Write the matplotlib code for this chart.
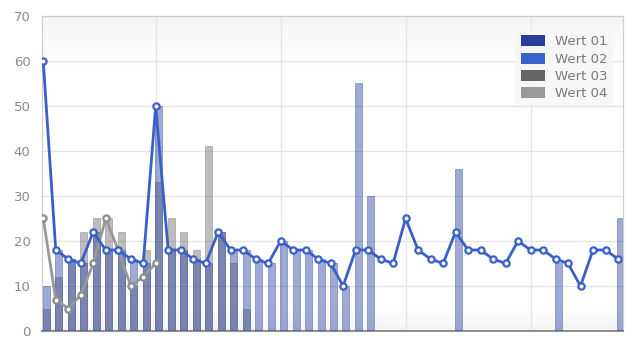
import numpy as np
import matplotlib
matplotlib.use('Agg')
import matplotlib.pyplot as plt
from matplotlib.patches import Patch

# Werte je Punkt (1..47)
x = np.arange(1, 48)

wert01 = [10, 18, 16, 15, 22, 18, 18, 16, 15, 50, 18, 18, 16, 15, 22, 18, 18, 16, 15, 20,
          18, 18, 16, 15, 10, 55, 30, 0, 0, 0, 0, 0, 0, 36, 0, 0, 0, 0, 0, 0,
          0, 15, 0, 0, 0, 0, 25]
wert02 = [60, 18, 16, 15, 22, 18, 18, 16, 15, 50, 18, 18, 16, 15, 22, 18, 18, 16, 15, 20,
          18, 18, 16, 15, 10, 18, 18, 16, 15, 25, 18, 16, 15, 22, 18, 18, 16, 15, 20, 18,
          18, 16, 15, 10, 18, 18, 16]
wert03 = [5, 12, 16, 22, 25, 25, 22, 10, 18, 33, 25, 22, 18, 41, 22, 15, 5]
wert04 = [25, 7, 5, 8, 15, 25, 18, 10, 12, 15]

labels = ['Wert 01', 'Wert 02', 'Wert 03', 'Wert 04']
farben = ['#26409a', '#3a62c8', '#666666', '#999999']

fig = plt.figure(figsize=(6.26, 3.38), dpi=100)
ax = fig.add_axes([0.0663, 0.0207, 0.9289, 0.932])

# leichter Verlauf im Hintergrund
grad = np.ones((100, 1))
grad[:18, 0] = np.linspace(0.955, 1.0, 18)
grad[-9:, 0] = np.linspace(1.0, 0.955, 9)
ax.imshow(grad, extent=[0, 1, 0, 1], transform=ax.transAxes, cmap='gray',
          vmin=0, vmax=1, aspect='auto', zorder=0)

bw = 0.56
ax.bar(x[:len(wert03)] - 0.05, wert03, width=bw, align='edge', color='#666666',
       alpha=0.43, edgecolor='#666666', linewidth=0.6, zorder=2)
ax.bar(x - 0.05, wert01, width=bw, align='edge', color='#2a45a0',
       alpha=0.45, edgecolor='#2a45a0', linewidth=0.6, zorder=3)

ax.plot(x[:len(wert04)], wert04, color='#999999', lw=2.0, marker='o', ms=4.5,
        mfc='white', mec='#8c8c8c', mew=1.6, zorder=4)
ax.plot(x, wert02, color='#3a5fc8', lw=2.0, marker='o', ms=4.5,
        mfc='white', mec='#3a5fc8', mew=1.6, zorder=5)

ax.set_xlim(0.86, 47.4)
ax.set_ylim(0, 70)
ax.set_yticks(range(0, 71, 10))
ax.set_xticks([10, 20, 30, 40])
ax.set_xticklabels([])
ax.tick_params(length=0, pad=8, labelsize=9.5, labelcolor='#8a8a8a')
ax.grid(True, color='#e4e4e4', lw=0.9, zorder=1)
ax.set_axisbelow(True)

for s in ['top', 'right', 'left']:
    ax.spines[s].set_color('#cfcfcf')
    ax.spines[s].set_linewidth(0.9)
ax.spines['bottom'].set_color('#8c8c8c')
ax.spines['bottom'].set_linewidth(1.4)

handles = [Patch(facecolor=c, edgecolor='none') for c in farben]
leg = ax.legend(handles, labels, loc='upper right', bbox_to_anchor=(0.995, 0.978),
                fontsize=9.5, handlelength=1.8, handleheight=0.9, handletextpad=0.75,
                labelspacing=0.32, borderpad=0.45, fancybox=False, framealpha=0.85,
                facecolor='#f6f6f6', edgecolor='none')
for t in leg.get_texts():
    t.set_color('#7a7a7a')

fig.savefig('out.png', dpi=100)
